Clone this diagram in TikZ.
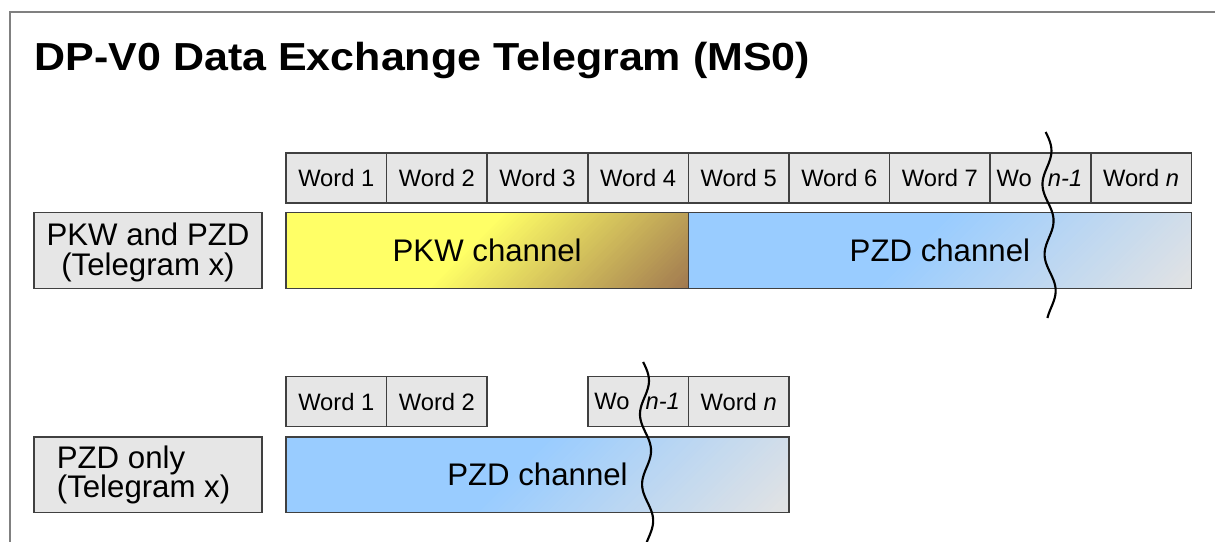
\documentclass[tikz,border=0pt]{standalone}
\usepackage{fontspec}
\setmainfont{Liberation Sans}
\newfontfamily\titlefont{Liberation Sans}[FakeStretch=1.1]
\usetikzlibrary{calc}

\definecolor{boxfill}{HTML}{E6E6E6}
\definecolor{edge}{HTML}{404040}
\definecolor{pkwyel}{HTML}{FFFF66}
\definecolor{pkwbrn}{HTML}{A07850}
\definecolor{pzdblue}{HTML}{99CCFF}
\definecolor{pzdgray}{HTML}{E3E3E3}
\definecolor{framegray}{HTML}{808080}

% diagonal colour ramp clipped to a bar:
% #1 left x, #2 right x, #3 top y, #4 bottom y, #5 ramp start (bottom x), #6 ramp end (bottom x), #7 start colour, #8 end colour
\newcommand{\diagramp}[8]{%
  \begin{scope}
    \clip (#1,#3) rectangle (#2,#4);
    \fill[#7] (#1,#3) rectangle (#2,#4);
    \foreach \i in {0,...,59} {
      \pgfmathsetmacro\sa{#5+(#6-#5)/60*\i}
      \pgfmathsetmacro\sb{#5+(#6-#5)/60*(\i+1)+0.8}
      \pgfmathtruncatemacro\pc{100/60*(\i+0.5)}
      \fill[#8!\pc!#7] (\sa,#4) -- (\sb,#4) -- ({\sb+(#4-#3)},#3) -- ({\sa+(#4-#3)},#3) -- cycle;
    }
    \fill[#8] (#6,#4) -- ({#2+120},#4) -- ({#2+120},#3) -- ({#6+(#4-#3)},#3) -- cycle;
  \end{scope}}

\tikzset{
  wordfont/.style={font=\fontsize{17.8}{21}\selectfont},
  bigfont/.style={font=\fontsize{23.4}{22}\selectfont},
  wordbox/.style={draw=edge, line width=1.1pt, fill=boxfill, inner sep=0pt,
    minimum width=100.6*0.75pt, minimum height=50*0.75pt, wordfont},
  labelbox/.style={draw=edge, line width=1.1pt, fill=boxfill, inner sep=0pt,
    minimum width=228*0.75pt, minimum height=75.5*0.75pt},
  barbox/.style={draw=edge, line width=1.1pt, inner sep=0pt,
    minimum height=75.5*0.75pt, bigfont},
  plaintext/.style={inner sep=0pt},
  breakline/.style={draw=black, line width=1.6pt},
  frameline/.style={draw=framegray, line width=0.9pt}
}

\begin{document}
\begin{tikzpicture}[x=0.75pt, y=-0.75pt]
\useasboundingbox (0,0) rectangle (1215,542);

% frame
\draw[frameline] (10,600) -- (10,12) -- (1260,12);

% title
\node[anchor=base west, inner sep=0pt, font=\titlefont\bfseries\fontsize{29.3}{34}\selectfont] (title) at (34.5,71) {DP-V0 Data Exchange Telegram (MS0)};

% ---- upper telegram ----
\foreach \k in {1,...,7} {
  \node[wordbox] (w\k) at ({286+100.6*(\k-0.5)},178) {Word \k};
}
\node[wordbox] (wn1) at ({286+100.6*7.5},178) {};
\node[plaintext, wordfont, anchor=west] (wo) at ($(wn1.west)+(7,0)$) {Wo};
\node[plaintext, wordfont, anchor=east] (nm1) at ($(wn1.east)+(-9,0)$) {\textit{n-1}};
\node[wordbox] (wn) at ({286+100.6*8.5},178) {Word \textit{n}};

\diagramp{286}{688.4}{213}{288}{427}{689}{pkwyel}{pkwbrn}
\diagramp{688.4}{1191.4}{213}{288}{874}{1192}{pzdblue}{pzdgray}
\node[barbox, minimum width=402.4*0.75pt] (pkw) at (487.2,250.5) {PKW channel};
\node[barbox, minimum width=503*0.75pt] (pzd) at (939.9,250.5) {PZD channel};

\node[labelbox] (l1) at (148,250.5) {};
\node[plaintext, bigfont, align=center] (l1t) at (148,252.5) {PKW and PZD\\(Telegram x)};

\draw[breakline] plot[variable=\t, domain=132:318, samples=100, smooth]
  ({1047.5+0.03*(\t-185)-5*cos(5.142857*(\t-185))}, \t);

% ---- lower telegram ----
\node[wordbox] (b1) at ({286+100.6*0.5},401.7) {Word 1};
\node[wordbox] (b2) at ({286+100.6*1.5},401.7) {Word 2};
\node[wordbox] (bn1) at ({286+100.6*3.5},401.7) {};
\node[plaintext, wordfont, anchor=west] (bwo) at ($(bn1.west)+(7,0)$) {Wo};
\node[plaintext, wordfont, anchor=east] (bnm1) at ($(bn1.east)+(-9,0)$) {\textit{n-1}};
\node[wordbox] (bn) at ({286+100.6*4.5},401.7) {Word \textit{n}};

\diagramp{286}{789}{437}{512.5}{473}{789}{pzdblue}{pzdgray}
\node[barbox, minimum width=503*0.75pt] (pzdb) at (537.5,474.7) {PZD channel};

\node[labelbox] (l2) at (148,474.7) {};
\node[plaintext, bigfont, align=left, anchor=west] (l2t) at (56.6,475) {PZD only\\(Telegram x)};

\draw[breakline] plot[variable=\t, domain=362:560, samples=100, smooth]
  ({645+0.03*(\t-415)-5*cos(5.142857*(\t-415))}, \t);
\end{tikzpicture}
\end{document}
